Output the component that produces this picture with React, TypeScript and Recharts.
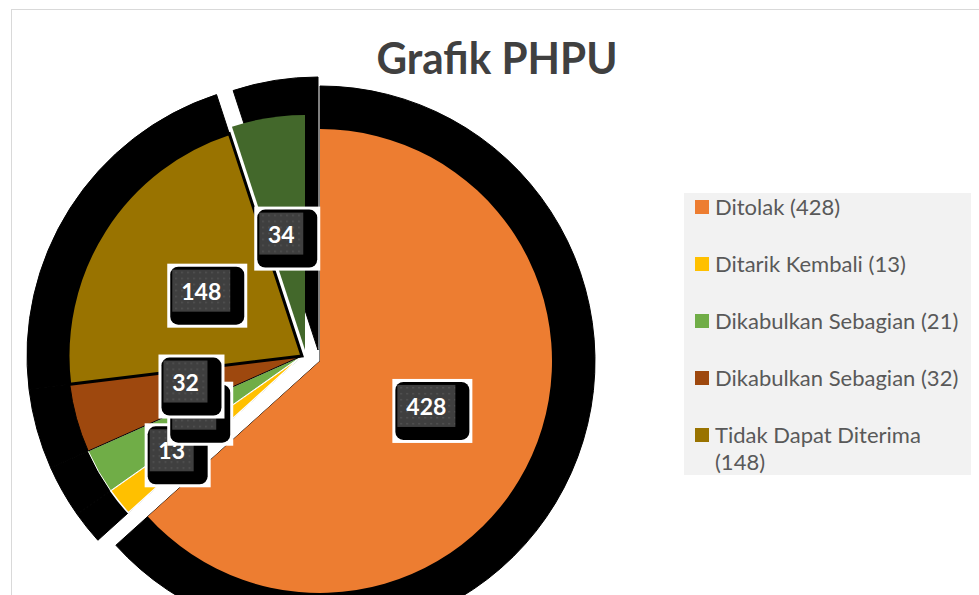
import { PieChart, Pie, Cell, Legend } from "recharts";

const names = [
  "Ditolak",
  "Ditarik Kembali",
  "Dikabulkan Sebagian",
  "Dikabulkan Sebagian",
  "Tidak Dapat Diterima",
  "Gugur",
];
const values = [428, 13, 21, 32, 148, 34];
const colors = ["#ED7D31", "#FFC000", "#70AD47", "#9E480E", "#997300", "#43682B"];

const data = names.map((name, i) => ({ name, value: values[i] }));

const W = 979;
const H = 595;
const RAD = Math.PI / 180;

// slices are drawn in three groups, each with its own centre (exploded pie)
const orangeGroup = [0];
const mainGroup = [1, 2, 3, 4];
const greenGroup = [5];

// the legend box only has room for the first five entries
const legendCount = 5;

// how far out along the slice each value box sits (fraction of radius)
const labelReach = [0.53, 0.68, 0.5, 0.49, 0.48, 0.48];

const sliceStroke = ["none", "#fff", "#fff", "#000", "#000", "none"];
const sliceStrokeW = [0, 1.5, 1, 1, 3, 0];

function ValueBox({ x, y, text, id }: { x: number; y: number; text: string; id: string }) {
  const w = text.length > 2 ? 80 : 66;
  const h = 64;
  const left = x - w / 2;
  const top = y - h / 2;
  return (
    <g>
      <defs>
        <pattern id={id} width={6} height={6} patternUnits="userSpaceOnUse" x={left} y={top}>
          <rect width={6} height={6} fill="#3f3f3f" />
          <rect x={2} y={2} width={1.5} height={1.5} fill="#575757" />
        </pattern>
      </defs>
      <rect x={left} y={top} width={w} height={h} fill="#fff" />
      <rect x={left + 3} y={top + 3} width={w - 6} height={h - 6} rx={8} fill="#000" />
      <rect x={left + 5} y={top + 6} width={w - 22} height={42} fill={`url(#${id})`} />
      <text
        x={left + 5 + (w - 22) / 2}
        y={top + 6 + 21}
        textAnchor="middle"
        dominantBaseline="central"
        fill="#fff"
        fontFamily="Lato"
        fontWeight={700}
        fontSize={23}
      >
        {text}
      </text>
    </g>
  );
}

const makeLabel = (group: number[], tag: string) => (p: any) => {
  if (!group.includes(p.index)) return null;
  const r = p.outerRadius * labelReach[p.index];
  const x = p.cx + r * Math.cos(-p.midAngle * RAD);
  const y = p.cy + r * Math.sin(-p.midAngle * RAD);
  return <ValueBox x={x} y={y} text={String(p.value)} id={`dots-${tag}-${p.index}`} />;
};

const renderLegend = () => (
  <div
    style={{
      width: 287,
      height: 282,
      background: "#f2f2f2",
      overflow: "hidden",
      fontFamily: "Lato",
      fontSize: 22,
      color: "#595959",
    }}
  >
    {names.slice(0, legendCount).map((n, i) => (
      <div
        key={i}
        style={{ display: "flex", alignItems: "flex-start", marginLeft: 11, marginBottom: 30, lineHeight: "27px" }}
      >
        <span
          style={{ width: 14, height: 14, background: colors[i], marginTop: 7, marginRight: 6, flex: "none" }}
        />
        <span style={{ width: 250 }}>{`${n} (${values[i]})`}</span>
      </div>
    ))}
  </div>
);

function ShadowPie({ group, cx, cy, r }: { group: number[]; cx: number; cy: number; r: number }) {
  return (
    <Pie
      data={data}
      dataKey="value"
      nameKey="name"
      cx={cx}
      cy={cy}
      outerRadius={r}
      startAngle={90}
      endAngle={-270}
      stroke="none"
      isAnimationActive={false}
      legendType="none"
    >
      {data.map((_, i) => (
        <Cell
          key={i}
          fill={group.includes(i) ? "#000" : "transparent"}
          stroke={group.includes(i) ? "#000" : "none"}
          strokeWidth={1}
        />
      ))}
    </Pie>
  );
}

function SlicePie({ group, cx, cy, r, tag }: { group: number[]; cx: number; cy: number; r: number; tag: string }) {
  return (
    <Pie
      data={data}
      dataKey="value"
      nameKey="name"
      cx={cx}
      cy={cy}
      outerRadius={r}
      startAngle={90}
      endAngle={-270}
      isAnimationActive={false}
      labelLine={false}
      label={makeLabel(group, tag)}
      legendType="none"
    >
      {data.map((_, i) => (
        <Cell
          key={i}
          fill={group.includes(i) ? colors[i] : "transparent"}
          stroke={group.includes(i) ? sliceStroke[i] : "none"}
          strokeWidth={sliceStrokeW[i]}
        />
      ))}
    </Pie>
  );
}

export default function App() {
  return (
    <div
      style={{ position: "absolute", left: 0, top: 0, width: W, height: H, overflow: "hidden", background: "#fff" }}
    >
      <div
        style={{
          position: "absolute",
          left: 11,
          top: 9,
          width: W,
          height: H,
          borderLeft: "1px solid #d9d9d9",
          borderTop: "1px solid #d9d9d9",
        }}
      />
      <div style={{ position: "absolute", left: 0, top: 0 }}>
        <PieChart width={W} height={H} margin={{ top: 0, right: 0, bottom: 0, left: 0 }}>
          {ShadowPie({ group: orangeGroup, cx: 320, cy: 361, r: 275 })}
          {ShadowPie({ group: mainGroup, cx: 302, cy: 356, r: 275 })}
          {ShadowPie({ group: greenGroup, cx: 318, cy: 350, r: 273 })}
          {SlicePie({ group: orangeGroup, cx: 320, cy: 361, r: 232, tag: "o" })}
          {SlicePie({ group: mainGroup, cx: 302, cy: 356, r: 234, tag: "m" })}
          {SlicePie({ group: greenGroup, cx: 305, cy: 350, r: 235, tag: "g" })}
          <Legend
            layout="vertical"
            align="right"
            verticalAlign="top"
            content={renderLegend}
            wrapperStyle={{ left: 684, top: 193, width: 287, height: 282 }}
          />
        </PieChart>
      </div>
      <svg style={{ position: "absolute", left: 0, top: 0 }} width={W} height={100}>
        <text
          x={497}
          y={74}
          textAnchor="middle"
          fontFamily="Lato"
          fontWeight={700}
          fontSize={44}
          fill="#404040"
          textLength={241}
          lengthAdjust="spacingAndGlyphs"
        >
          Grafik PHPU
        </text>
      </svg>
    </div>
  );
}
